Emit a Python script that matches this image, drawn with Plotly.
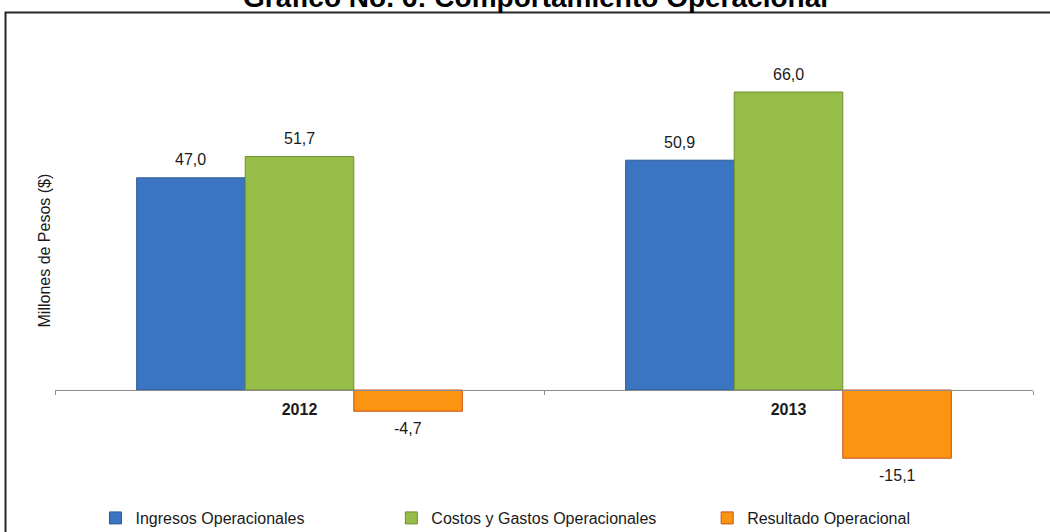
import plotly.graph_objects as go

# Data (millones de pesos)
years = ["2012", "2013"]
ingresos = [47.0, 50.9]
costos = [51.7, 66.0]
resultado = [-4.7, -15.1]

series = [
    ("Ingresos Operacionales", ingresos, "#3b75c2", "#2c5a96", "legend"),
    ("Costos y Gastos Operacionales", costos, "#96bd48", "#6f8f2f", "legend2"),
    ("Resultado Operacional", resultado, "#fb9410", "#c8501a", "legend3"),
]

W, H = 1050, 532
L, R, T, B = 54.5, 17, 40, 52
PLOT_W = W - L - R
PLOT_H = H - T - B

Y_MIN, Y_MAX = -19.93, 77.52
FONT = "Arial, Liberation Sans, sans-serif"
BAR_PX = 108.7  # width of one bar, used to shift the value labels


def px_x(px):
    return (px - L) / PLOT_W


def px_y(py):
    return (H - B - py) / PLOT_H


def fmt(v):
    return f"{v:.1f}".replace(".", ",")


fig = go.Figure()
annotations = []

for i, (name, values, color, edge, leg) in enumerate(series):
    fig.add_trace(
        go.Bar(
            x=years,
            y=values,
            name=name,
            legend=leg,
            marker=dict(color=color, line=dict(color=edge, width=1)),
        )
    )
    # value labels, a bit further from the bar ends than plotly's "outside"
    # (category axis: annotation x is the category index)
    for j, v in enumerate(values):
        annotations.append(dict(
            x=j, y=v, xref="x", yref="y",
            xshift=(i - 1) * BAR_PX,
            yshift=18 if v >= 0 else -17,
            text=fmt(v),
            showarrow=False,
            xanchor="center", yanchor="middle",
            font=dict(family=FONT, size=16, color="#1a1a1a"),
        ))

annotations += [
    dict(
        text="<b>Gráfico No. 6: Comportamiento Operacional</b>",
        x=px_x(535.5), y=px_y(15),
        xref="paper", yref="paper",
        xanchor="center", yanchor="bottom",
        showarrow=False,
        font=dict(family=FONT, size=28, color="#000000"),
    ),
    dict(
        text="Millones de Pesos ($)",
        x=px_x(44), y=px_y(251),
        xref="paper", yref="paper",
        xanchor="center", yanchor="middle",
        textangle=-90,
        showarrow=False,
        font=dict(family=FONT, size=16, color="#1a1a1a"),
    ),
]

# legends placed one by one, like the Excel original
legend_style = dict(
    orientation="h",
    xanchor="left",
    yanchor="middle",
    y=px_y(518),
    font=dict(family=FONT, size=16, color="#1a1a1a"),
    bgcolor="rgba(0,0,0,0)",
    itemwidth=30,
)

fig.update_layout(
    width=W,
    height=H,
    barmode="group",
    bargap=0.334,
    bargroupgap=0,
    plot_bgcolor="white",
    paper_bgcolor="white",
    margin=dict(l=L, r=R, t=T, b=B, autoexpand=False),
    showlegend=True,
    legend=dict(x=px_x(95), **legend_style),
    legend2=dict(x=px_x(391), **legend_style),
    legend3=dict(x=px_x(707), **legend_style),
    xaxis=dict(
        type="category",
        range=[-0.5, len(years) - 0.5],
        anchor="free",
        position=(0 - Y_MIN) / (Y_MAX - Y_MIN),
        showline=True,
        linecolor="#8c8c8c",
        linewidth=1.3,
        ticks="outside",
        tickson="boundaries",
        ticklen=4,
        tickcolor="#8c8c8c",
        ticklabelstandoff=5,
        tickfont=dict(family=FONT, size=16, color="#1a1a1a", weight="bold"),
        showgrid=False,
        zeroline=False,
    ),
    yaxis=dict(
        range=[Y_MIN, Y_MAX],
        showticklabels=False,
        showgrid=False,
        zeroline=False,
        showline=False,
        ticks="",
    ),
    annotations=annotations,
    shapes=[
        dict(
            type="rect",
            xref="paper", yref="paper",
            x0=px_x(5), x1=px_x(1070),
            y0=px_y(12.5), y1=px_y(560),
            line=dict(color="#262626", width=2),
            fillcolor="rgba(0,0,0,0)",
            layer="below",
        )
    ],
)

# the page's default body margin would push the fixed-size figure off by 8px
fig.write_html(
    "out.html",
    config={"displayModeBar": False},
    post_script="document.body.style.margin = '0';",
)
